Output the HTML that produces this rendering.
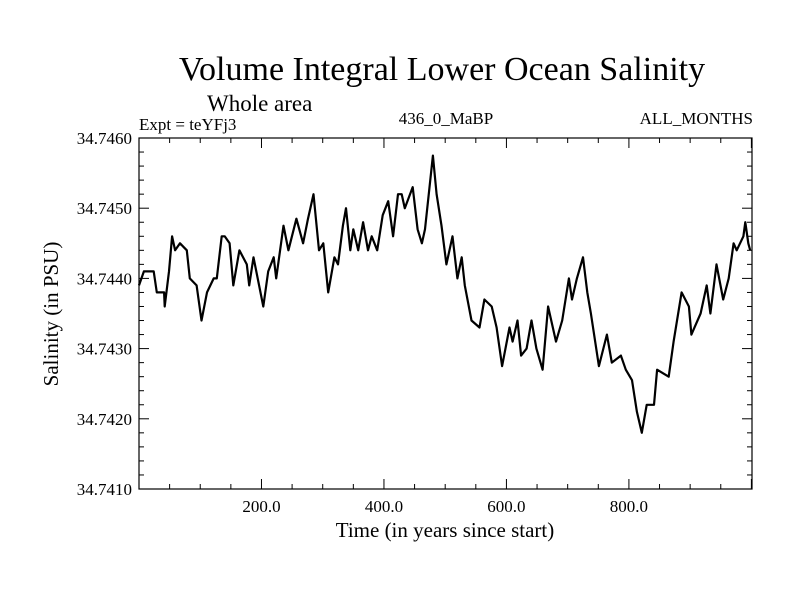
<!DOCTYPE html>
<html><head><meta charset="utf-8"><style>
body{margin:0;background:#fff}
svg{display:block;font-family:"Liberation Serif",serif}
</style></head><body>
<svg id="chart" width="800" height="600" viewBox="0 0 800 600">
<rect width="800" height="600" fill="#fff"/>
<text x="442" y="80" font-size="34" text-anchor="middle">Volume Integral Lower Ocean Salinity</text>
<text x="207" y="111" font-size="23">Whole area</text>
<text x="139" y="130" font-size="17">Expt = teYFj3</text>
<text x="446" y="124" font-size="17" text-anchor="middle">436_0_MaBP</text>
<text x="753" y="124" font-size="17" text-anchor="end">ALL_MONTHS</text>
<text x="445" y="537" font-size="21" text-anchor="middle">Time (in years since start)</text>
<text x="0" y="0" font-size="21" text-anchor="middle" transform="translate(58,314) rotate(-90)">Salinity (in PSU)</text>
<g id="axes"></g>
<path id="line" fill="none" stroke="#000" stroke-width="2.2" stroke-linejoin="round"/>
<rect x="139" y="138" width="613" height="351" fill="none" stroke="#000" stroke-width="1.2"/>
</svg>
<script>
const years=[0,8,24,29,41,42,49,54,59,67,78,83,94,102,111,122,127,135,140,148,154,164,176,180,187,203,211,220,224,236,244,257,268,276,285,294,301,309,319,325,333,338,345,350,358,366,374,380,389,398,407,415,423,429,434,447,455,462,467,480,486,494,502,512,520,527,532,543,556,564,576,584,593,605,610,618,624,633,641,649,659,668,681,691,702,707,715,725,732,738,751,764,772,787,795,805,813,821,829,841,846,865,873,886,898,902,917,927,933,943,954,963,971,976,987,990,995,998];
const salinity=[34.7439,34.7441,34.7441,34.7438,34.7438,34.7436,34.7441,34.7446,34.7444,34.7445,34.7444,34.7440,34.7439,34.7434,34.7438,34.7440,34.7440,34.7446,34.7446,34.7445,34.7439,34.7444,34.7442,34.7439,34.7443,34.7436,34.7441,34.7443,34.7440,34.74475,34.7444,34.74485,34.7445,34.74485,34.7452,34.7444,34.7445,34.7438,34.7443,34.7442,34.74475,34.7450,34.7444,34.7447,34.7444,34.7448,34.7444,34.7446,34.7444,34.7449,34.7451,34.7446,34.7452,34.7452,34.7450,34.7453,34.7447,34.7445,34.7447,34.74575,34.7452,34.74475,34.7442,34.7446,34.7440,34.7443,34.7439,34.7434,34.7433,34.7437,34.7436,34.7433,34.74275,34.7433,34.7431,34.7434,34.7429,34.7430,34.7434,34.7430,34.7427,34.7436,34.7431,34.7434,34.7440,34.7437,34.7440,34.7443,34.7438,34.7435,34.74275,34.7432,34.7428,34.7429,34.7427,34.74255,34.7421,34.7418,34.7422,34.7422,34.7427,34.7426,34.7431,34.7438,34.7436,34.7432,34.7435,34.7439,34.7435,34.7442,34.7437,34.7440,34.7445,34.7444,34.7446,34.7448,34.7445,34.7444];
const xTicks=[200,400,600,800];
const xTickLabels=["200.0","400.0","600.0","800.0"];
const yTicks=[34.7410,34.7420,34.7430,34.7440,34.7450,34.7460];
const yTickLabels=["34.7410","34.7420","34.7430","34.7440","34.7450","34.7460"];
const X0=139,X1=752,Y0=489,Y1=138,XMIN=0,XMAX=1001,YMIN=34.7410,YMAX=34.7460;
const sx=v=>X0+(v-XMIN)/(XMAX-XMIN)*(X1-X0);
const sy=v=>Y0-(v-YMIN)/(YMAX-YMIN)*(Y0-Y1);
const NS="http://www.w3.org/2000/svg";
const ax=document.getElementById('axes');
function ln(x1,y1,x2,y2,name){const l=document.createElementNS(NS,'line');
l.setAttribute('x1',x1);l.setAttribute('y1',y1);l.setAttribute('x2',x2);l.setAttribute('y2',y2);
l.setAttribute('stroke','#000');l.setAttribute('stroke-width','1');


ax.appendChild(l);}
function tx(x,y,s,anchor,name){const t=document.createElementNS(NS,'text');
t.setAttribute('x',x);t.setAttribute('y',y);t.setAttribute('font-size','17');t.setAttribute('text-anchor',anchor);t.textContent=s;


ax.appendChild(t);}
for(let v=50;v<XMAX;v+=50){const x=sx(v);const major=v%200===0;const L=major?10:5;
ln(x,Y0,x,Y0-L,'x-tick');ln(x,Y1,x,Y1+L,'x-tick-top');}
xTicks.forEach((v,i)=>tx(sx(v),Y0+23,xTickLabels[i],'middle','x-tick-label'));
for(let k=0;k<=25;k++){const v=YMIN+k*0.0002;const y=sy(v);const major=k%5===0;const L=major?10:5;
ln(X0,y,X0+L,y,'y-tick');ln(X1,y,X1-L,y,'y-tick-right');}
yTicks.forEach((v,i)=>tx(132,sy(v)+6,yTickLabels[i],'end','y-tick-label'));
document.getElementById('line').setAttribute('d',years.map((y,i)=>(i?'L':'M')+sx(y).toFixed(1)+','+sy(salinity[i]).toFixed(1)).join(''));
</script>
</body></html>
